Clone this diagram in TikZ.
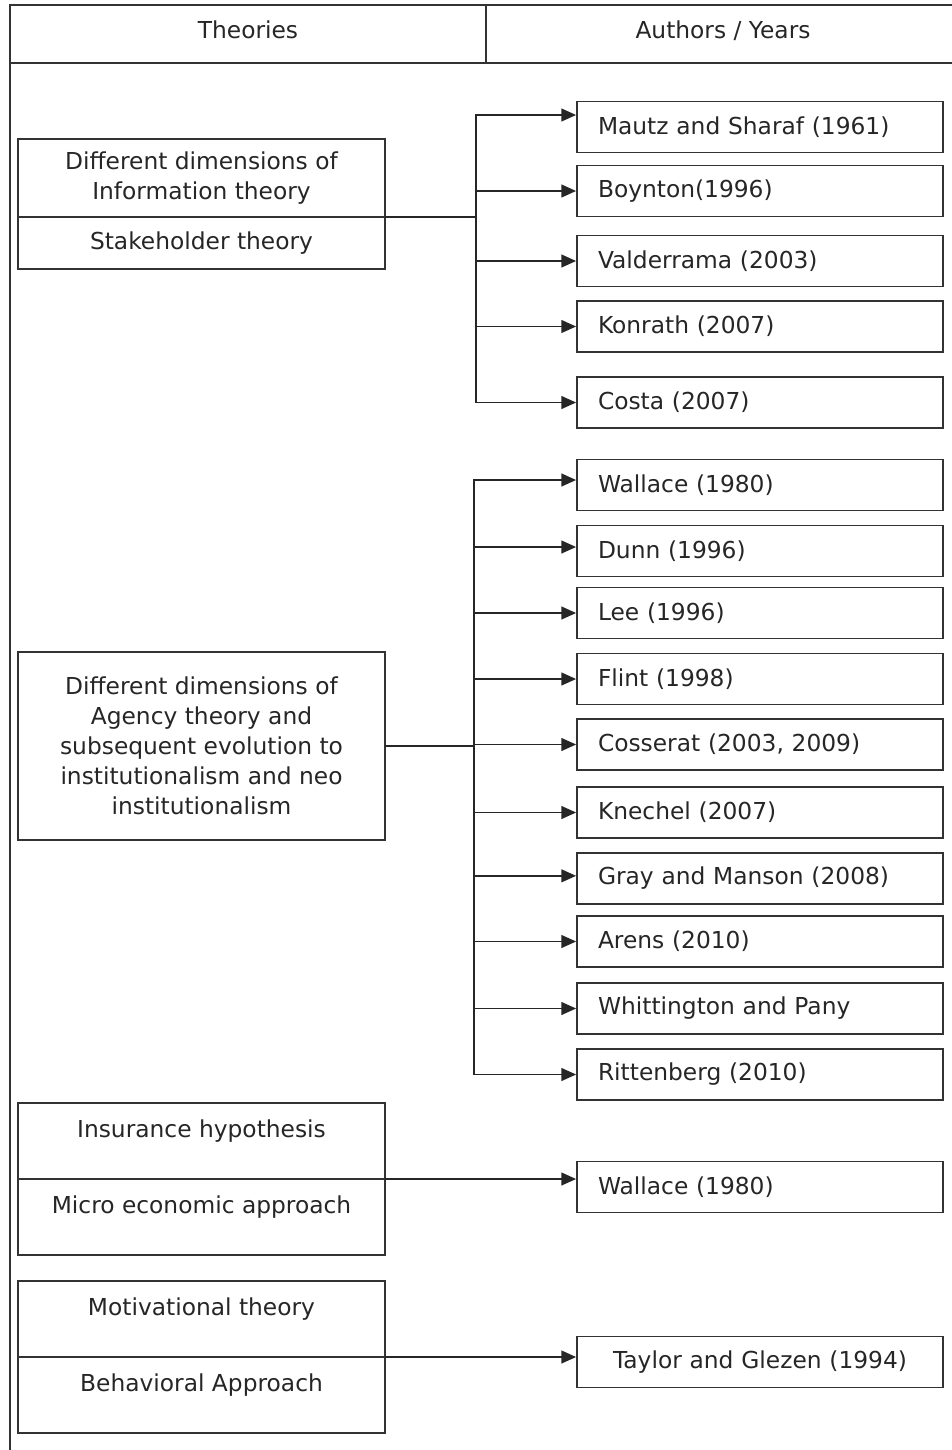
\documentclass[tikz,border=0pt]{standalone}
\usepackage{fontspec}
\setmainfont{DejaVu Sans}
\usetikzlibrary{arrows.meta,positioning}
\newcommand\boxfont{\fontsize{17.5pt}{22.5pt}\selectfont}

\begin{document}
\begin{tikzpicture}[
    x=0.75pt, y=-0.75pt,
    font=\boxfont, text=black!85,
    frame/.style={draw=black!80, line width=1.3pt},
    cell/.style={frame, minimum height=43.5pt, inner sep=0pt, outer sep=0pt,
                 text height=13pt, text depth=6pt},
    theory/.style={frame, minimum width=275.25pt, align=center, outer sep=0pt},
    toptext/.style={inner ysep=0pt, text height=26pt, text depth=31pt},
    author/.style={frame, minimum height=38.25pt, text width=243pt,
                   inner xsep=15.75pt, align=left},
    line/.style={draw=black!85, line width=1.4pt},
    arr/.style={line, -{Triangle[length=11pt,width=9.5pt]}}
]
    \useasboundingbox (0,0) rectangle (951,1450);

    % header
    \node[cell, minimum width=357pt] (theo) at (248,34) {Theories};
    \node[cell, minimum width=355.5pt, right=0pt of theo] (auth) {Authors / Years};
    \coordinate (frameend) at (10,1460);
    \draw[frame] (theo.south west) -- (frameend);

    % information / stakeholder
    \node[theory, minimum height=58.5pt] (infoA) at (201.5,178) {Different dimensions of\\Information theory};
    \node[theory, minimum height=39pt, below=0pt of infoA] (infoB) {Stakeholder theory};

    \node[author] (mautz)      at (760,127)   {Mautz and Sharaf (1961)};
    \node[author] (boynton)    at (760,191)   {Boynton(1996)};
    \node[author] (valderrama) at (760,261)   {Valderrama (2003)};
    \node[author] (konrath)    at (760,326.5) {Konrath (2007)};
    \node[author] (costa)      at (760,402.5) {Costa (2007)};

    \coordinate[right=68.25pt of infoA.south east] (bus1);
    \draw[line] (infoA.south east) -- (bus1);
    \draw[arr] (bus1) |- ([yshift=9pt]mautz.west);
    \draw[arr] (bus1) |- (boynton.west);
    \draw[arr] (bus1) |- (valderrama.west);
    \draw[arr] (bus1) |- (konrath.west);
    \draw[arr] (bus1) |- (costa.west);

    % agency
    \node[theory, minimum height=141pt] (agency) at (201.5,746) {Different dimensions of\\Agency theory and\\subsequent evolution to\\institutionalism and neo\\institutionalism};

    \node[author] (wallaceA)   at (760,485)    {Wallace (1980)};
    \node[author] (dunn)       at (760,551)    {Dunn (1996)};
    \node[author] (lee)        at (760,613)    {Lee (1996)};
    \node[author] (flint)      at (760,679)    {Flint (1998)};
    \node[author] (cosserat)   at (760,744.5)  {Cosserat (2003, 2009)};
    \node[author] (knechel)    at (760,812.5)  {Knechel (2007)};
    \node[author] (gray)       at (760,878.5)  {Gray and Manson (2008)};
    \node[author] (arens)      at (760,941.5)  {Arens (2010)};
    \node[author] (whitt)      at (760,1008.5) {Whittington and Pany};
    \node[author] (ritten)     at (760,1074.5) {Rittenberg (2010)};

    \coordinate[right=66.75pt of agency.east] (bus2);
    \draw[line] (agency.east) -- (bus2);
    \draw[arr] (bus2) |- ([yshift=3.75pt]wallaceA.west);
    \draw[arr] (bus2) |- ([yshift=3pt]dunn.west);
    \draw[arr] (bus2) |- (lee.west);
    \draw[arr] (bus2) |- (flint.west);
    \draw[arr] (bus2) |- (cosserat.west);
    \draw[arr] (bus2) |- (knechel.west);
    \draw[arr] (bus2) |- ([yshift=2pt]gray.west);
    \draw[arr] (bus2) |- (arens.west);
    \draw[arr] (bus2) |- (whitt.west);
    \draw[arr] (bus2) |- (ritten.west);

    % insurance / micro economic
    \node[theory, toptext, minimum height=57pt] (insA) at (201.5,1141) {Insurance hypothesis};
    \node[theory, toptext, minimum height=57pt, below=0pt of insA] (insB) {Micro economic approach};
    \node[author] (wallaceB) at (760,1187) {Wallace (1980)};
    \draw[arr] (insA.south east) -- (insA.south east -| wallaceB.west);

    % motivational / behavioral
    \node[theory, toptext, minimum height=57pt] (motA) at (201.5,1319) {Motivational theory};
    \node[theory, toptext, minimum height=57pt, below=0pt of motA] (motB) {Behavioral Approach};
    \node[author, align=center] (taylor) at (760,1362) {Taylor and Glezen (1994)};
    \draw[arr] (motA.south east) -- (motA.south east -| taylor.west);
\end{tikzpicture}
\end{document}
